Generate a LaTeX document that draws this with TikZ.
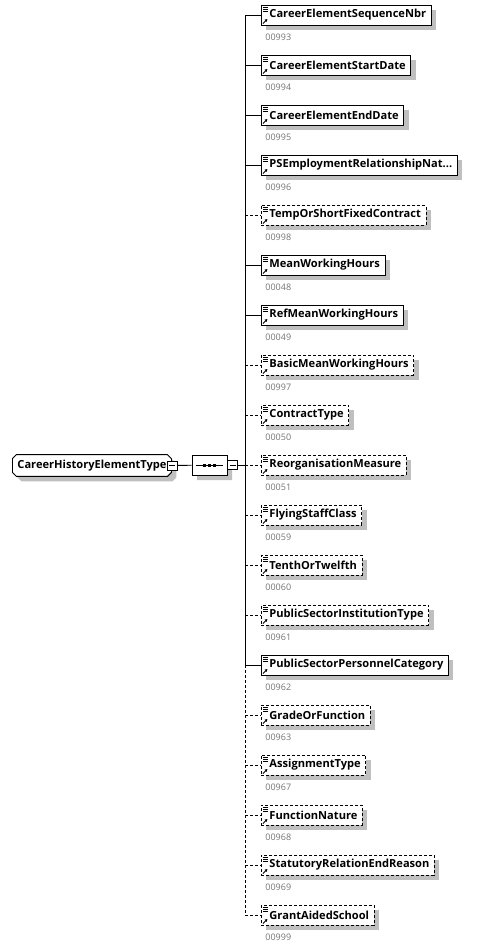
\documentclass[tikz,border=0pt]{standalone}
\usepackage{fontspec}
\setmainfont{Open Sans}
\usetikzlibrary{shapes.misc, shadows, arrows.meta, positioning}

\tikzset{
  boxshadow/.style={drop shadow={shadow xshift=5pt, shadow yshift=-5pt, fill=black!25, opacity=1}},
  docicons/.style={path picture={
    \foreach \d in {2,4,6}
      \draw[solid, line width=0.7pt] ([xshift=2pt, yshift=-\d pt]path picture bounding box.north west) -- ++(5pt,0);
    \draw[solid, line width=0.8pt, -{Triangle[length=2.6pt, width=2.8pt]}]
      ([xshift=1.5pt, yshift=1.5pt]path picture bounding box.south west) -- ++(4.5pt,4.5pt);
  }},
  dashline/.style={dash pattern=on 3pt off 2pt}
}

\begin{document}
\begin{tikzpicture}[x=1pt, y=-1pt, line width=0.9pt,
  elem/.style={draw, fill=white, anchor=west, minimum height=20pt, inner xsep=5pt, inner ysep=2pt,
    font=\bfseries\fontsize{11.1}{13}\selectfont, boxshadow, docicons},
  optelem/.style={elem, dashline},
  idlabel/.style={anchor=west, inner sep=0pt, text=black!55, font=\fontsize{9}{10}\selectfont},
  root/.style={chamfered rectangle, chamfered rectangle xsep=2pt, chamfered rectangle ysep=2pt, draw, fill=white,
    anchor=west, minimum height=21pt, inner xsep=3pt, font=\bfseries\fontsize{11.1}{13}\selectfont, boxshadow},
  seqbox/.style={chamfered rectangle, chamfered rectangle xsep=5pt, chamfered rectangle ysep=5pt, draw, fill=white,
    minimum width=35pt, minimum height=20pt, inner sep=0pt, boxshadow},
  minusbox/.style={draw, fill=white, minimum width=10pt, minimum height=9pt, inner sep=0pt, line width=0.8pt,
    path picture={\draw[line width=0.8pt] ([xshift=2pt]path picture bounding box.west) -- ([xshift=-2pt]path picture bounding box.east);}}
]
\useasboundingbox (0,0) rectangle (478,948);

% root type and sequence
\node[root] (root) at (12,465.5) {CareerHistoryElementType\hspace{9pt}};
\node[minusbox] (rootminus) at (root.east) {};
\node[seqbox] (seq) at (209.5,465) {};
\node[minusbox, anchor=west] (seqminus) at (seq.east) {};
\draw ([xshift=4pt]seq.west) -- ([xshift=-4pt]seq.east);
\foreach \dx in {-5,0,5}
  \fill ([xshift=\dx pt - 1.5pt, yshift=-1.5pt]seq.center) rectangle ++(3pt,3pt);
\coordinate (bus) at (245,465);

% child elements
\node[elem] (seqnbr) at (261,15) {\kern3pt CareerElementSequenceNbr};
\node[elem] (startdate) at (261,65) {\kern3pt CareerElementStartDate};
\node[elem] (enddate) at (261,115) {\kern3pt CareerElementEndDate};
\node[elem] (psemp) at (261,165) {\kern3pt PSEmploymentRelationshipNat...};
\node[optelem] (tempfixed) at (261,215) {\kern3pt TempOrShortFixedContract};
\node[elem] (meanhours) at (261,265) {\kern3pt MeanWorkingHours};
\node[elem] (refhours) at (261,315) {\kern3pt RefMeanWorkingHours};
\node[optelem] (basichours) at (261,365) {\kern3pt BasicMeanWorkingHours};
\node[optelem] (contract) at (261,415) {\kern3pt ContractType};
\node[optelem] (reorg) at (261,465) {\kern3pt ReorganisationMeasure};
\node[optelem] (flying) at (261,515) {\kern3pt FlyingStaffClass};
\node[optelem] (tenth) at (261,565) {\kern3pt TenthOrTwelfth};
\node[optelem] (institution) at (261,615) {\kern3pt PublicSectorInstitutionType};
\node[elem] (personnel) at (261,665) {\kern3pt PublicSectorPersonnelCategory};
\node[optelem] (grade) at (261,715) {\kern3pt GradeOrFunction};
\node[optelem] (assignment) at (261,765) {\kern3pt AssignmentType};
\node[optelem] (funcnature) at (261,815) {\kern3pt FunctionNature};
\node[optelem] (statutory) at (261,865) {\kern3pt StatutoryRelationEndReason};
\node[optelem] (grantaided) at (261,915) {\kern3pt GrantAidedSchool};

% id numbers
\node[idlabel] (id993) at (265,37) {00993};
\node[idlabel] (id994) at (265,87) {00994};
\node[idlabel] (id995) at (265,137) {00995};
\node[idlabel] (id996) at (265,187) {00996};
\node[idlabel] (id998) at (265,237) {00998};
\node[idlabel] (id048) at (265,287) {00048};
\node[idlabel] (id049) at (265,337) {00049};
\node[idlabel] (id997) at (265,387) {00997};
\node[idlabel] (id050) at (265,437) {00050};
\node[idlabel] (id051) at (265,487) {00051};
\node[idlabel] (id059) at (265,537) {00059};
\node[idlabel] (id060) at (265,587) {00060};
\node[idlabel] (id961) at (265,637) {00961};
\node[idlabel] (id962) at (265,687) {00962};
\node[idlabel] (id963) at (265,737) {00963};
\node[idlabel] (id967) at (265,787) {00967};
\node[idlabel] (id968) at (265,837) {00968};
\node[idlabel] (id969) at (265,887) {00969};
\node[idlabel] (id999) at (265,937) {00999};

% connectors
\draw (rootminus) -- (seq);
\draw (seqminus) -- (bus);
\draw (seqnbr.west -| bus) -- (personnel.west -| bus);
\draw[dashline] (personnel.west -| bus) -- (grantaided.west -| bus);
\draw (seqnbr.west -| bus) -- (seqnbr);
\draw (startdate.west -| bus) -- (startdate);
\draw (enddate.west -| bus) -- (enddate);
\draw (psemp.west -| bus) -- (psemp);
\draw[dashline] (tempfixed.west -| bus) -- (tempfixed);
\draw (meanhours.west -| bus) -- (meanhours);
\draw (refhours.west -| bus) -- (refhours);
\draw[dashline] (basichours.west -| bus) -- (basichours);
\draw[dashline] (contract.west -| bus) -- (contract);
\draw[dashline] (reorg.west -| bus) -- (reorg);
\draw[dashline] (flying.west -| bus) -- (flying);
\draw[dashline] (tenth.west -| bus) -- (tenth);
\draw[dashline] (institution.west -| bus) -- (institution);
\draw (personnel.west -| bus) -- (personnel);
\draw[dashline] (grade.west -| bus) -- (grade);
\draw[dashline] (assignment.west -| bus) -- (assignment);
\draw[dashline] (funcnature.west -| bus) -- (funcnature);
\draw[dashline] (statutory.west -| bus) -- (statutory);
\draw[dashline] (grantaided.west -| bus) -- (grantaided);
\end{tikzpicture}
\end{document}
